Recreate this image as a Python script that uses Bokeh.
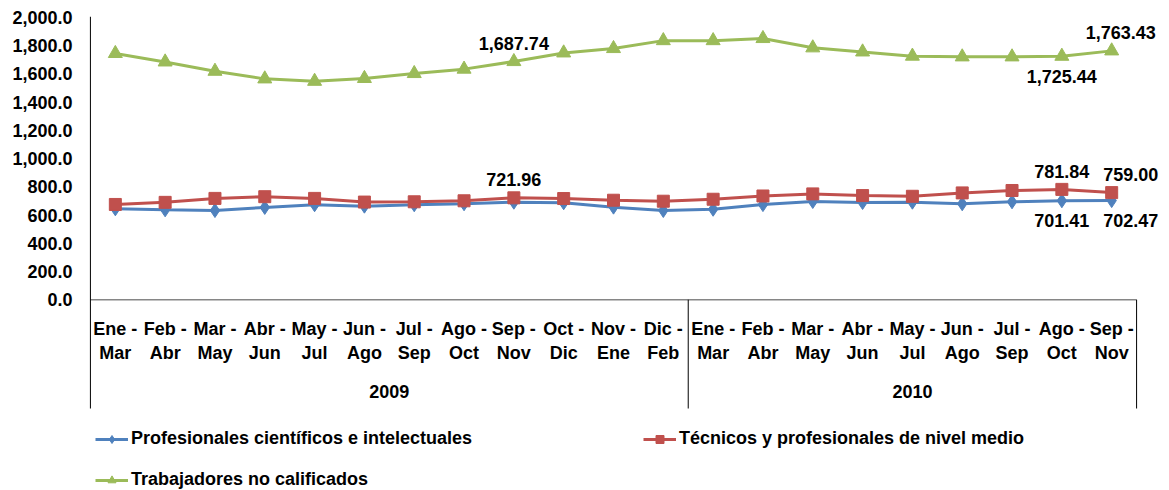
from bokeh.plotting import figure
from bokeh.models import (FactorRange, Range1d, ColumnDataSource, FixedTicker,
                          NumeralTickFormatter, LabelSet, Legend, LegendItem)
from bokeh.core.properties import value
from bokeh.embed import file_html
from bokeh.resources import INLINE

# ---------------- data ----------------
years = ["2009"] * 12 + ["2010"] * 9
periods = ["Ene -\nMar", "Feb -\nAbr", "Mar -\nMay", "Abr -\nJun", "May -\nJul", "Jun -\nAgo",
           "Jul -\nSep", "Ago -\nOct", "Sep -\nNov", "Oct -\nDic", "Nov -\nEne", "Dic -\nFeb",
           "Ene -\nMar", "Feb -\nAbr", "Mar -\nMay", "Abr -\nJun", "May -\nJul", "Jun -\nAgo",
           "Jul -\nSep", "Ago -\nOct", "Sep -\nNov"]

profesionales = [644, 637, 632, 654, 673, 663, 673, 680, 691, 687, 656, 632,
                 641, 674, 696, 689, 691, 680, 694, 701.41, 702.47]
tecnicos = [675, 690, 718, 730, 718, 692, 694, 701, 721.96, 717, 705, 698,
            712, 735, 750, 738, 733, 757, 774, 781.84, 759.00]
trabajadores = [1745, 1685, 1619, 1565, 1548, 1568, 1603, 1634, 1687.74, 1749, 1780, 1836,
                1836, 1851, 1785, 1756, 1726, 1721, 1721, 1725.44, 1763.43]

series_names = ["Profesionales científicos e intelectuales",
                "Técnicos y profesionales de nivel medio",
                "Trabajadores no calificados"]

y_ticks = [0, 200, 400, 600, 800, 1000, 1200, 1400, 1600, 1800, 2000]

# labelled points: (series index, point index)
label_series = [2, 2, 2, 1, 1, 1, 0, 0]
label_points = [8, 19, 20, 8, 19, 20, 19, 20]

# ---------------- figure ----------------
FONT = "Liberation Sans"
factors = list(zip(years, periods))

Y_TOP = 2007
Y_BOX = -771      # bottom of the category box
Y_BOTTOM = -1352  # bottom of the frame

p = figure(width=1169, height=490, output_backend="svg", toolbar_location=None,
           x_range=FactorRange(*factors, factor_padding=0, group_padding=0,
                               range_padding=0.44, range_padding_units="absolute"),
           y_range=Range1d(Y_BOTTOM, Y_TOP),
           min_border_left=68, min_border_right=11, min_border_top=16, min_border_bottom=0)
p.outline_line_color = None
p.grid.visible = False
p.background_fill_color = "white"
p.border_fill_color = "white"

colors = ["#4F81BD", "#C0504D", "#9BBB59"]
markers = ["diamond", "square", "triangle"]
msizes = [14, 12, 14]
all_series = [profesionales, tecnicos, trabajadores]

# axis / box lines
first_edge = (years[0], periods[0], -0.5)
group_edge = (years[11], periods[11], 0.5)
last_edge = (years[20], periods[20], 0.5)
p.segment(x0=[first_edge], y0=[0], x1=[last_edge], y1=[0], line_color="#868686", line_width=1.5)
p.segment(x0=[first_edge], y0=[Y_TOP], x1=[first_edge], y1=[Y_BOX], line_color="black", line_width=1)
p.segment(x0=[group_edge, last_edge], y0=[0, 0], x1=[group_edge, last_edge], y1=[Y_BOX, Y_BOX],
          line_color="black", line_width=1)

items = []
for name, vals, c, m, s in zip(series_names, all_series, colors, markers, msizes):
    src = ColumnDataSource(dict(x=factors, y=vals))
    l = p.line("x", "y", source=src, line_color=c, line_width=3)
    sc = p.scatter("x", "y", source=src, marker=m, size=s, fill_color=c, line_color=c)
    items.append(LegendItem(label=name, renderers=[l, sc]))

# data labels
lx, ly, lt, dx, dy = [], [], [], [], []
below = {(2, 19), (0, 19), (0, 20)}
shift = {(2, 20): 9, (1, 20): 19, (0, 20): 19}
for si, pi in zip(label_series, label_points):
    v = all_series[si][pi]
    lx.append(factors[pi])
    ly.append(v)
    lt.append(f"{v:,.2f}")
    dy.append(-20 if (si, pi) in below else 18)
    dx.append(shift.get((si, pi), 0))
lsrc = ColumnDataSource(dict(x=lx, y=ly, t=lt, dx=dx, dy=dy))
p.add_layout(LabelSet(x="x", y="y", text="t", source=lsrc, x_offset="dx", y_offset="dy",
                      text_align="center", text_baseline="middle",
                      text_font=value(FONT), text_font_style="bold", text_font_size="18px",
                      text_color="black"))

# y axis
ya = p.yaxis[0]
ya.ticker = FixedTicker(ticks=y_ticks)
ya.formatter = NumeralTickFormatter(format="0,0.0")
ya.major_tick_line_color = None
ya.minor_tick_line_color = None
ya.major_tick_out = 0
ya.major_tick_in = 0
ya.major_label_standoff = -4
ya.axis_line_color = None
ya.major_label_text_font = FONT
ya.major_label_text_font_style = "bold"
ya.major_label_text_font_size = "18px"
ya.major_label_text_color = "black"

# x axis (pinned at value 0)
xa = p.xaxis[0]
xa.fixed_location = 0
xa.axis_line_color = None
xa.major_tick_line_color = None
xa.minor_tick_line_color = None
xa.major_tick_out = 0
xa.major_tick_in = 0
xa.separator_line_color = None
xa.major_label_text_font = FONT
xa.major_label_text_font_style = "bold"
xa.major_label_text_font_size = "18px"
xa.major_label_text_color = "black"
xa.major_label_text_line_height = 1.2
xa.major_label_standoff = 19
xa.group_text_font = FONT
xa.group_text_font_style = "bold"
xa.group_text_font_size = "18px"
xa.group_text_color = "black"

common = dict(margin=0, padding=0, spacing=20, glyph_width=33, glyph_height=20,
              label_height=20, label_standoff=3,
              label_text_font=FONT, label_text_font_style="bold",
              label_text_font_size="18px", label_text_color="black",
              border_line_color=None, background_fill_alpha=0)
legend1 = Legend(items=[items[0], items[2]], orientation="vertical", location=(27, 0), **common)
legend2 = Legend(items=[items[1]], orientation="vertical", location=(575, 41), **common)
p.add_layout(legend1, "center")
p.add_layout(legend2, "center")

open("out.html", "w").write(file_html(p, INLINE))
